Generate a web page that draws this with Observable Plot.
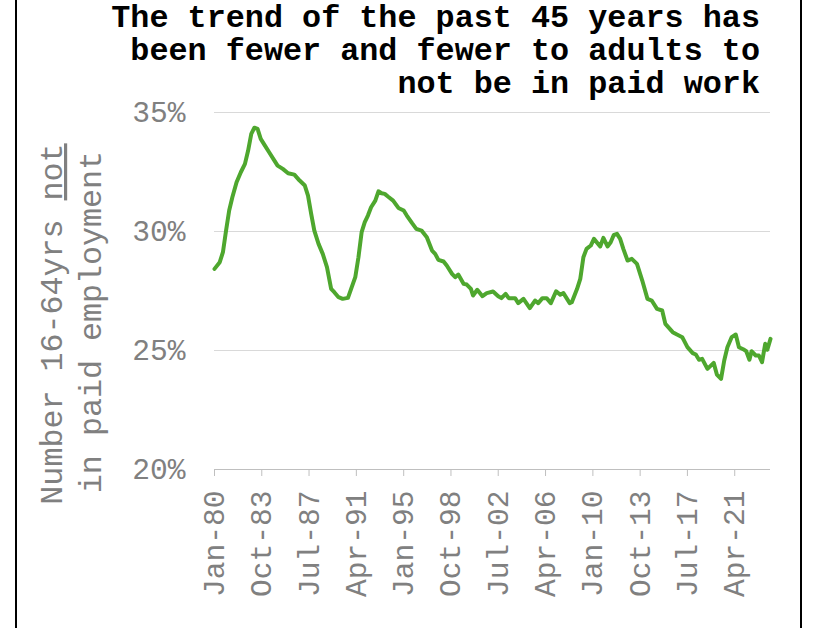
<!DOCTYPE html>
<html>
<head>
<meta charset="utf-8">
<script src="https://cdn.jsdelivr.net/npm/d3@7"></script>
<script src="https://cdn.jsdelivr.net/npm/@observablehq/plot@0.6"></script>
<style>
  body { margin: 0; background: #fff; }
  #wrap { position: relative; width: 814px; height: 628px; overflow: hidden; }
  #frame {
    position: absolute; left: 15px; top: 0; width: 787px; height: 628px;
    border-left: 2px solid #000; border-right: 2px solid #000;
    box-sizing: border-box; pointer-events: none;
  }
</style>
</head>
<body>
<div id="wrap">
  <div id="chart"></div>
  <div id="frame"></div>
</div>
<script>
const titleLines = ["The trend of the past 45 years has",
                    "been fewer and fewer to adults to",
                    "not be in paid work"];
const months = [
  "1980-01","1980-06","1980-09","1980-12","1981-03","1981-06","1981-10","1982-02","1982-06","1982-09",
  "1982-12","1983-03","1983-06","1983-09","1984-01","1984-05","1984-10","1985-01","1985-06","1985-11",
  "1986-05","1986-10","1987-03","1987-06","1987-09","1987-12","1988-04","1988-08","1988-12","1989-04",
  "1989-07","1989-11","1990-03","1990-08","1990-11","1991-03","1991-06","1991-09","1991-12","1992-03",
  "1992-06","1992-10","1993-01","1993-04","1993-07","1993-10","1994-03","1994-08","1995-01","1995-04",
  "1995-09","1996-01","1996-06","1996-11","1997-04","1997-07","1997-10","1998-03","1998-06","1998-11",
  "1999-02","1999-05","1999-10","2000-01","2000-05","2000-07","2000-11","2001-04","2001-08","2002-02",
  "2002-07","2002-10","2003-02","2003-05","2003-11","2004-02","2004-07","2005-01","2005-06","2005-09",
  "2006-01","2006-05","2006-09","2007-02","2007-06","2007-09","2008-03","2008-05","2008-10","2009-01",
  "2009-04","2009-07","2009-11","2010-02","2010-08","2010-11","2011-03","2011-06","2011-09","2011-12",
  "2012-03","2012-06","2012-10","2013-02","2013-07","2013-12","2014-05","2014-09","2015-02","2015-07",
  "2015-10","2016-05","2016-09","2017-02","2017-07","2017-12","2018-03","2018-06","2018-09","2019-02",
  "2019-08","2019-11","2020-03","2020-06","2020-09","2021-01","2021-05","2021-08","2022-01","2022-03",
  "2022-06","2022-08","2022-12","2023-03","2023-06","2023-09","2023-11","2024-02"
];
const notEmployed = [
  28.43,28.71,29.13,30.04,30.88,31.44,32.07,32.49,32.84,33.40,
  34.10,34.36,34.31,33.89,33.61,33.33,32.98,32.77,32.63,32.45,
  32.39,32.14,31.93,31.51,30.74,30.04,29.48,29.06,28.50,27.59,
  27.45,27.24,27.17,27.21,27.59,28.08,28.92,29.97,30.39,30.67,
  31.02,31.30,31.69,31.61,31.58,31.47,31.30,30.99,30.88,30.67,
  30.35,30.11,30.04,29.76,29.20,29.06,28.81,28.74,28.57,28.22,
  28.08,28.19,27.80,27.77,27.59,27.31,27.55,27.28,27.41,27.48,
  27.28,27.20,27.38,27.20,27.20,26.99,27.17,26.78,27.10,26.99,
  27.20,27.20,26.99,27.49,27.34,27.41,26.99,27.03,27.59,28.01,
  28.92,29.27,29.41,29.69,29.37,29.73,29.37,29.55,29.86,29.90,
  29.69,29.27,28.78,28.85,28.64,27.94,27.17,27.10,26.75,26.68,
  26.12,25.77,25.67,25.56,25.14,24.89,24.83,24.61,24.65,24.23,
  24.48,23.99,23.81,24.58,25.14,25.56,25.67,25.14,25.03,24.97,
  24.61,24.97,24.79,24.79,24.51,25.28,25.03,25.49
];
const tickLabels = ["Jan-80","Oct-83","Jul-87","Apr-91","Jan-95","Oct-98",
                    "Jul-02","Apr-06","Jan-10","Oct-13","Jul-17","Apr-21"];
const yTicks = [20, 25, 30, 35];

const parseMonth = d3.utcParse("%Y-%m");
const parseTick = d3.utcParse("%b-%y");
const data = months.map((m, i) => ({date: parseMonth(m), value: notEmployed[i]}));
const tickDates = tickLabels.map(parseTick);

const grey = "#808080";

const chart = Plot.plot({
  width: 814,
  height: 628,
  marginTop: 112,
  marginBottom: 159,
  marginLeft: 214,
  marginRight: 44,
  style: {fontFamily: "Liberation Mono", fontSize: "29.6px", color: grey, background: "#fff"},
  x: {type: "utc", domain: [data[0].date, data[data.length - 1].date]},
  y: {domain: [20, 35]},
  marks: [
    Plot.gridY(yTicks.slice(1), {stroke: "#d9d9d9", strokeOpacity: 1}),
    Plot.ruleY([20], {stroke: "#bfbfbf"}),
    Plot.axisY(yTicks, {tickSize: 0, tickPadding: 29, tickFormat: (d) => d + "%", label: null, fill: grey}),
    Plot.axisX(tickDates, {
      tickRotate: -90, tickSize: 7, tickPadding: 14, stroke: "#bfbfbf",
      tickFormat: d3.utcFormat("%b-%y"), label: null, fill: grey
    }),
    Plot.lineY(data, {x: "date", y: "value", stroke: "#4ea72e", strokeWidth: 4, strokeLinejoin: "round"})
  ]
});

d3.select("#chart").append(() => chart);

const svg = d3.select(chart);

// title, right aligned, one text per line
svg.append("g")
  .attr("text-anchor", "end")
  .style("font", "bold 31.8px 'Liberation Mono'")
  .attr("fill", "#000")
  .selectAll("text")
  .data(titleLines)
  .join("text")
  .attr("x", 760)
  .attr("y", (d, i) => 27 + i * 33)
  .text((d) => d);

// two-line rotated y-axis title with underlined "not"
const t1 = svg.append("text")
  .attr("transform", "translate(62,324) rotate(-90)")
  .attr("text-anchor", "middle")
  .attr("fill", grey)
  .style("font", "31.7px 'Liberation Mono'");
t1.append("tspan").text("Number 16-64yrs ");
t1.append("tspan").style("text-decoration", "underline").text("not");
svg.append("text")
  .attr("transform", "translate(101,322) rotate(-90)")
  .attr("text-anchor", "middle")
  .attr("fill", grey)
  .style("font", "31.7px 'Liberation Mono'")
  .text("in paid employment");
</script>
</body>
</html>
